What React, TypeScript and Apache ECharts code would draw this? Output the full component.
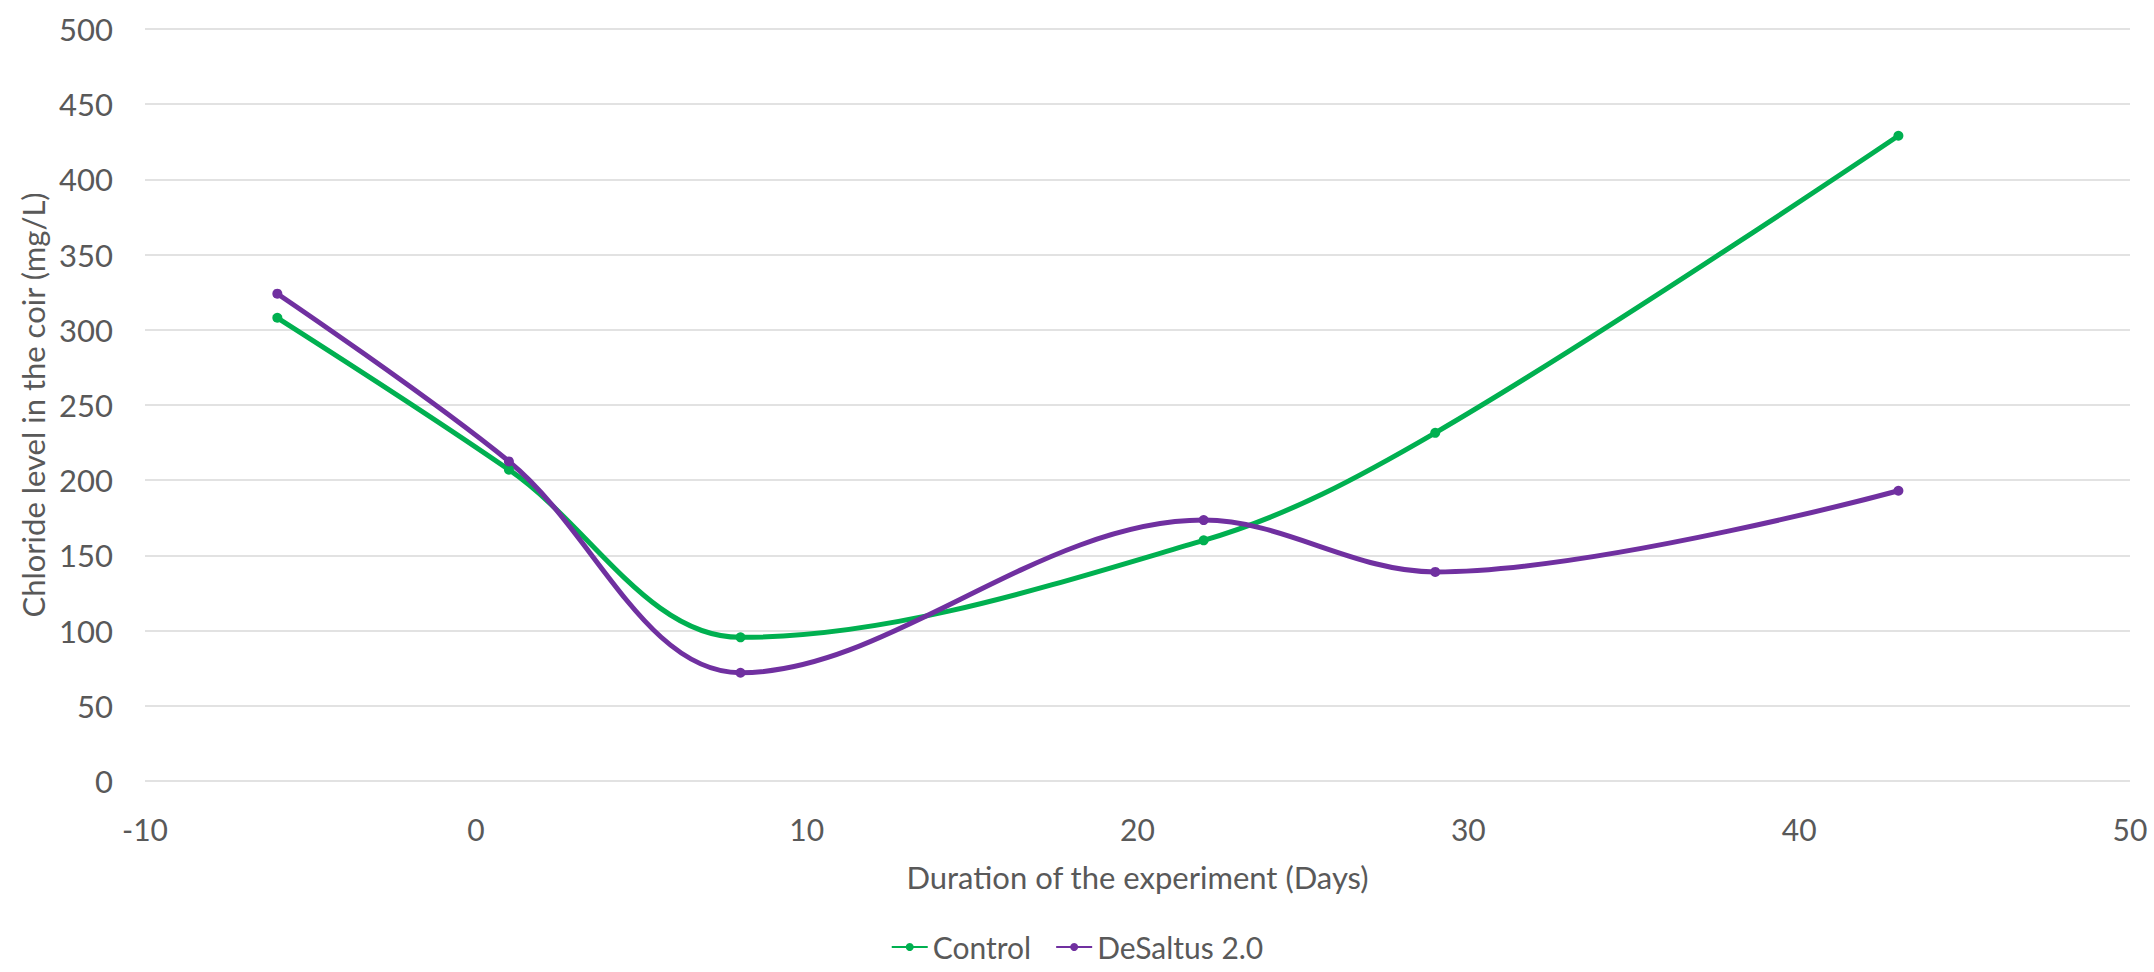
import React, { useEffect, useRef } from "react";
import * as echarts from "echarts";

const days = [-6, 1, 8, 22, 29, 43];
const controlValues = [308, 207, 95.5, 160, 231.5, 429];
const desaltusValues = [324, 212.5, 72, 173.5, 139, 193];
const seriesNames = ["Control", "DeSaltus 2.0"];
const xTitle = "Duration of the experiment (Days)";
const yTitle = "Chloride level in the coir (mg/L)";

const FONT = "Lato, 'Open Sans', sans-serif";
const GREY = "#595959";

export default function App() {
  const ref = useRef<HTMLDivElement>(null);
  useEffect(() => {
    document.body.style.margin = "0";
    if (!ref.current) return;
    const chart = echarts.init(ref.current, undefined, { renderer: "svg" });
    const toPairs = (vals: number[]) => days.map((d, i) => [d, vals[i]]);
    chart.setOption({
      animation: false,
      backgroundColor: "#ffffff",
      textStyle: { fontFamily: FONT, color: GREY },
      grid: { left: 145, right: 24, top: 29, bottom: 191, containLabel: false },
      xAxis: {
        type: "value",
        min: -10,
        max: 50,
        interval: 10,
        name: xTitle,
        nameLocation: "middle",
        nameGap: 80,
        nameTextStyle: { fontSize: 31, color: GREY, fontFamily: FONT },
        axisLine: { show: false },
        axisTick: { show: false },
        splitLine: { show: false },
        axisLabel: { fontSize: 30, color: GREY, margin: 33, fontFamily: FONT },
      },
      yAxis: {
        type: "value",
        min: 0,
        max: 500,
        interval: 50,
        name: yTitle,
        nameLocation: "middle",
        nameGap: 85,
        nameTextStyle: { fontSize: 31, color: GREY, fontFamily: FONT },
        axisLine: { show: false },
        axisTick: { show: false },
        splitLine: { lineStyle: { color: "#D9D9D9", width: 1.5 } },
        axisLabel: { fontSize: 31, color: GREY, margin: 32, fontFamily: FONT },
      },
      legend: {
        data: seriesNames,
        left: "center",
        top: 932,
        padding: 0,
        itemWidth: 36,
        itemHeight: 10,
        itemGap: 24,
        textStyle: { fontSize: 30, color: GREY, fontFamily: FONT },
      },
      series: [
        {
          name: seriesNames[0],
          type: "line",
          data: toPairs(controlValues),
          smooth: 0.35,
          symbol: "circle",
          symbolSize: 10,
          itemStyle: { color: "#00B050" },
          lineStyle: { color: "#00B050", width: 5 },
        },
        {
          name: seriesNames[1],
          type: "line",
          data: toPairs(desaltusValues),
          smooth: 0.35,
          symbol: "circle",
          symbolSize: 10,
          itemStyle: { color: "#7030A0" },
          lineStyle: { color: "#7030A0", width: 5 },
        },
      ],
    });
    return () => chart.dispose();
  }, []);
  return <div ref={ref} style={{ width: 2154, height: 972 }} />;
}
